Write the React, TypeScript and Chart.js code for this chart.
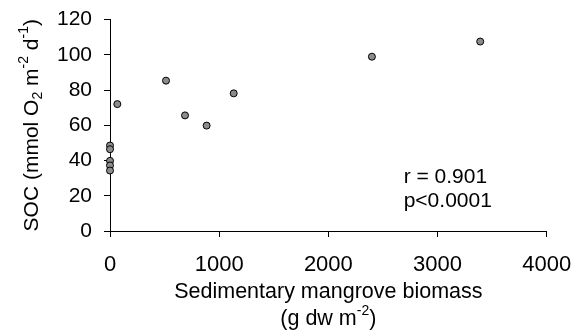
import React, { useEffect, useRef } from "react";
import { Chart, registerables } from "chart.js";

Chart.register(...registerables);

// Sediment biomass (g dw m^-2) and sediment oxygen consumption (mmol O2 m^-2 d^-1)
const biomass = [0, 0, 0, 0, 0, 67, 513, 687, 885, 1133, 2399, 3391];
const soc = [48.5, 46.4, 39.8, 37.2, 34.3, 72, 85.3, 65.6, 59.8, 78.1, 98.9, 107.5];
const xTicks = [0, 1000, 2000, 3000, 4000];
const yTicks = [0, 20, 40, 60, 80, 100, 120];
const statLines = ["r = 0.901", "p<0.0001"];

const FONT = "'Liberation Sans', Arial, Helvetica, sans-serif";

type Seg = { t: string; mode?: "sup" | "sub" };

const yTitle: Seg[] = [
  { t: "SOC (mmol O" },
  { t: "2", mode: "sub" },
  { t: " m" },
  { t: "-2", mode: "sup" },
  { t: " d" },
  { t: "-1", mode: "sup" },
  { t: ")" },
];
const xTitle1: Seg[] = [{ t: "Sedimentary mangrove biomass" }];
const xTitle2: Seg[] = [{ t: "(g dw m" }, { t: "-2", mode: "sup" }, { t: ")" }];

function drawRich(ctx: CanvasRenderingContext2D, segs: Seg[], cx: number, cy: number, size: number) {
  const small = Math.round(size * 0.65);
  const widths = segs.map((s) => {
    ctx.font = `${s.mode ? small : size}px ${FONT}`;
    return ctx.measureText(s.t).width;
  });
  const total = widths.reduce((a, b) => a + b, 0);
  let x = cx - total / 2;
  ctx.textBaseline = "middle";
  ctx.textAlign = "left";
  segs.forEach((s, i) => {
    ctx.font = `${s.mode ? small : size}px ${FONT}`;
    let dy = 0;
    if (s.mode === "sup") dy = -size * 0.38;
    if (s.mode === "sub") dy = size * 0.3;
    ctx.fillText(s.t, x, cy + dy);
    x += widths[i];
  });
}

// keep the plot box fixed: labels are allowed to overhang into the padding
const noScalePadding = (s: any) => {
  s.paddingLeft = 0;
  s.paddingRight = 0;
  s.paddingTop = 0;
  s.paddingBottom = 0;
};

const titlesPlugin = {
  id: "richTitles",
  afterDraw(chart: any) {
    const ctx: CanvasRenderingContext2D = chart.ctx;
    const area = chart.chartArea;
    ctx.save();
    ctx.fillStyle = "#000";
    const cxArea = (area.left + area.right) / 2;
    drawRich(ctx, xTitle1, cxArea, 292, 21.5);
    drawRich(ctx, xTitle2, cxArea, 319, 21.5);

    ctx.save();
    ctx.translate(32, (area.top + area.bottom) / 2);
    ctx.rotate(-Math.PI / 2);
    drawRich(ctx, yTitle, 0, 0, 21);
    ctx.restore();

    // correlation statistics
    const xs = chart.scales.x;
    const ys = chart.scales.y;
    ctx.font = `21px ${FONT}`;
    ctx.textAlign = "left";
    ctx.textBaseline = "middle";
    ctx.fillText(statLines[0], xs.getPixelForValue(2690), ys.getPixelForValue(30.6));
    ctx.fillText(statLines[1], xs.getPixelForValue(2690), ys.getPixelForValue(17.0));
    ctx.restore();
  },
};

export default function App() {
  const ref = useRef<HTMLCanvasElement | null>(null);

  useEffect(() => {
    document.body.style.margin = "0";
    const canvas = ref.current;
    if (!canvas) return;
    const chart = new Chart(canvas, {
      type: "scatter",
      data: {
        datasets: [
          {
            data: biomass.map((x, i) => ({ x, y: soc[i] })),
            backgroundColor: "#8c8c8c",
            borderColor: "#000",
            borderWidth: 1,
            pointRadius: 3.5,
            clip: false as any,
          },
        ],
      },
      options: {
        responsive: false,
        animation: false,
        devicePixelRatio: 1,
        layout: { padding: { left: 0, right: 33.3, top: 19.5, bottom: 0 } },
        plugins: { legend: { display: false }, tooltip: { enabled: false } },
        scales: {
          x: {
            type: "linear",
            min: 0,
            max: 4000,
            afterBuildTicks: (s: any) => {
              s.ticks = xTicks.map((v) => ({ value: v }));
            },
            afterFit: (s: any) => {
              s.height = 100;
              noScalePadding(s);
            },
            grid: { drawOnChartArea: false, drawTicks: true, tickLength: 6, color: "#000" },
            border: { color: "#000", width: 1 },
            ticks: {
              color: "#000",
              font: { family: FONT, size: 22 },
              padding: 15,
              maxRotation: 0,
              autoSkip: false,
              callback: (v: any) => String(v),
            },
          },
          y: {
            type: "linear",
            min: 0,
            max: 120,
            afterBuildTicks: (s: any) => {
              s.ticks = yTicks.map((v) => ({ value: v }));
            },
            afterFit: (s: any) => {
              s.width = 110;
              noScalePadding(s);
            },
            grid: { drawOnChartArea: false, drawTicks: true, tickLength: 6, color: "#000" },
            border: { color: "#000", width: 1 },
            ticks: {
              color: "#000",
              font: { family: FONT, size: 21 },
              padding: 12,
              autoSkip: false,
              callback: (v: any) => String(v),
            },
          },
        },
      },
      plugins: [titlesPlugin],
    });
    return () => chart.destroy();
  }, []);

  return (
    <div style={{ width: 580, height: 331, background: "#fff" }}>
      <canvas ref={ref} width={580} height={331} />
    </div>
  );
}
